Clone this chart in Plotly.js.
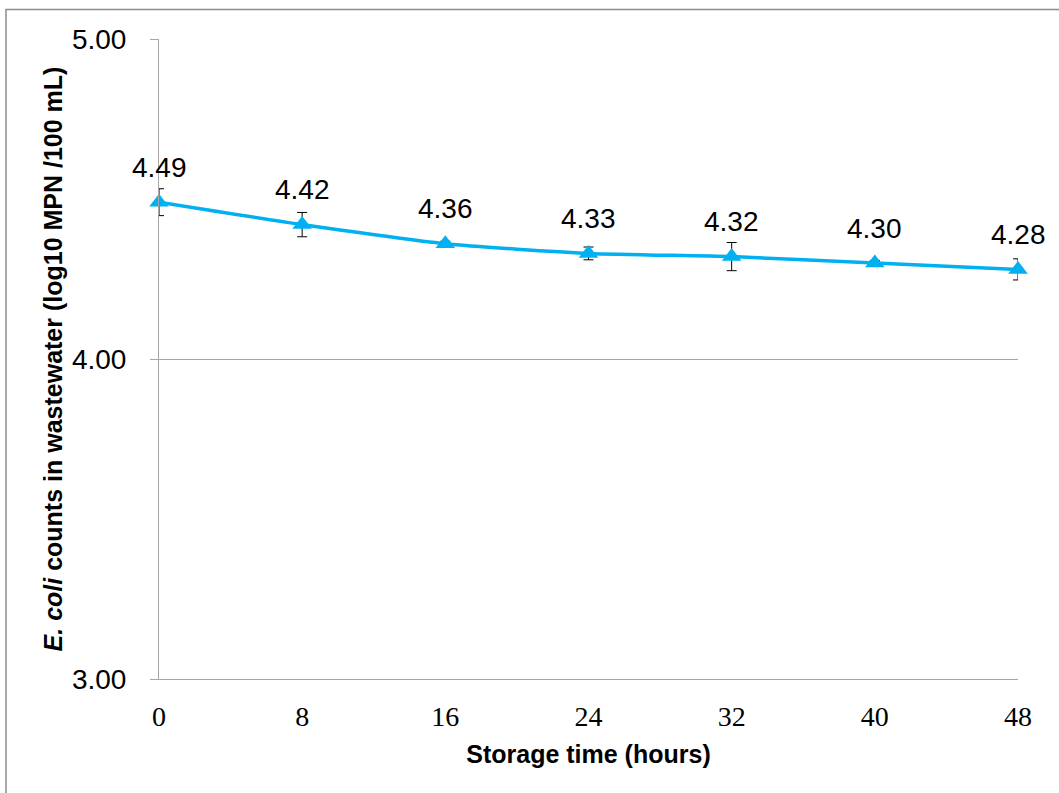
<!DOCTYPE html>
<html>
<head>
<meta charset="utf-8">
<script src="https://cdn.plot.ly/plotly-3.0.1.min.js"></script>
<style>
html,body{margin:0;padding:0;background:#fff;}
#chart{width:1059px;height:793px;}
</style>
</head>
<body>
<div id="chart"></div>
<script>
const hours = [0, 8, 16, 24, 32, 40, 48];
const ecoli = [4.49, 4.42, 4.36, 4.33, 4.32, 4.30, 4.28];
const errors = [0.042, 0.038, 0.008, 0.02, 0.044, 0.008, 0.033];
const labels = ["4.49", "4.42", "4.36", "4.33", "4.32", "4.30", "4.28"];
const xTicks = [0, 8, 16, 24, 32, 40, 48];
const yTicks = [3, 4, 5];
const yTickLabels = ["3.00", "4.00", "5.00"];

const trace = {
  x: hours,
  y: ecoli,
  type: 'scatter',
  mode: 'lines+markers',
  line: {color: '#00B0F0', width: 3.5, shape: 'spline', smoothing: 0.6},
  marker: {symbol: 'triangle-up', size: 17, color: '#00B0F0'},
  error_y: {type: 'data', array: errors, visible: true, color: '#000', thickness: 1, width: 5},
  cliponaxis: false,
  hoverinfo: 'skip'
};

const annotations = hours.map((h, i) => ({
  x: h, y: ecoli[i], xref: 'x', yref: 'y',
  text: labels[i], showarrow: false, yshift: 35,
  font: {family: 'Liberation Sans, Arial, sans-serif', size: 28, color: '#000'}
}));

const layout = {
  width: 1059, height: 793,
  margin: {l: 159, r: 41, t: 39, b: 114},
  paper_bgcolor: '#fff', plot_bgcolor: '#fff',
  showlegend: false,
  xaxis: {
    range: [0, 48], tickvals: xTicks, ticktext: xTicks.map(String),
    showgrid: false, zeroline: false, showline: true, linecolor: '#a6a6a6', linewidth: 1,
    ticks: '', ticklabelstandoff: 12,
    tickfont: {family: 'Liberation Serif, Times New Roman, serif', size: 28, color: '#000'},
    title: {text: '<b>Storage time (hours)</b>', standoff: 14,
      font: {family: 'Liberation Sans, Arial, sans-serif', size: 25, color: '#000'}}
  },
  yaxis: {
    range: [3, 5], tickvals: yTicks, ticktext: yTickLabels,
    showgrid: true, gridcolor: '#a6a6a6', gridwidth: 1, zeroline: false,
    showline: true, linecolor: '#a6a6a6', linewidth: 1,
    ticks: 'outside', ticklen: 8, tickcolor: '#a6a6a6', ticklabelstandoff: 18,
    tickfont: {family: 'Liberation Sans, Arial, sans-serif', size: 28, color: '#000'},
    title: {text: '<b><i>E. coli</i> counts in wastewater (log10 MPN /100 mL)</b>', standoff: 2,
      font: {family: 'Liberation Sans, Arial, sans-serif', size: 25, color: '#000'}}
  },
  annotations: annotations,
  shapes: [{
    type: 'rect', xref: 'paper', yref: 'paper',
    x0: (6 - 159) / 859, x1: (1070 - 159) / 859,
    y0: (679 - 810) / 640, y1: 1 + (39 - 9.5) / 640,
    line: {color: '#8c8c8c', width: 1.5}, fillcolor: 'rgba(0,0,0,0)', layer: 'below'
  }]
};

Plotly.newPlot('chart', [trace], layout, {displayModeBar: false, staticPlot: true});
</script>
</body>
</html>
